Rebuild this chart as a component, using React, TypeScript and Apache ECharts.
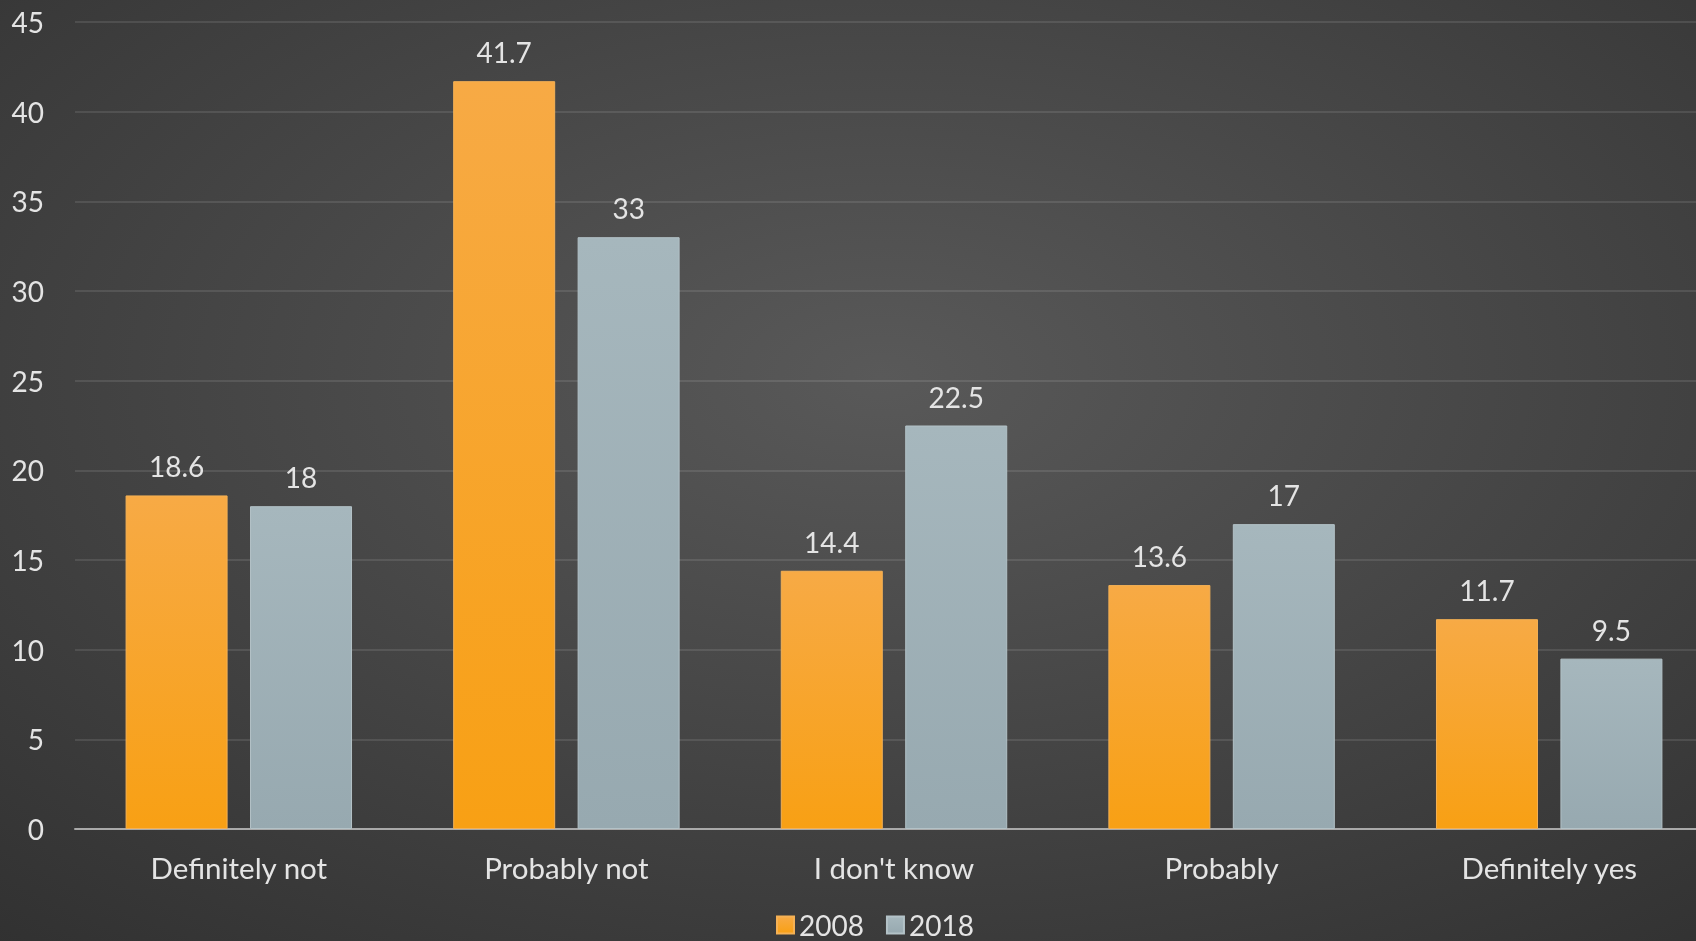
import React, { useEffect, useRef } from "react";
import * as echarts from "echarts";

const categories = ["Definitely not", "Probably not", "I don't know", "Probably", "Definitely yes"];
const values2008 = [18.6, 41.7, 14.4, 13.6, 11.7];
const values2018 = [18, 33, 22.5, 17, 9.5];
const seriesNames = ["2008", "2018"];

export default function App() {
  const ref = useRef<HTMLDivElement>(null);
  useEffect(() => {
    document.body.style.margin = "0";
    const chart = echarts.init(ref.current!, null, { renderer: "svg" });
    const font = "Lato, 'Open Sans', sans-serif";
    const textColor = "#e4e4e4";
    chart.setOption({
      animation: false,
      backgroundColor: {
        type: "radial",
        x: 0.52,
        y: 0.4,
        r: 1.0,
        colorStops: [
          { offset: 0, color: "#595959" },
          { offset: 1, color: "#272727" },
        ],
      },
      grid: { left: 75, width: 1638, top: 22, height: 807, containLabel: false, outerBoundsMode: "none" },
      legend: {
        data: seriesNames,
        left: 771,
        top: 906,
        itemWidth: 17,
        itemHeight: 17,
        itemGap: 22,
        icon: "rect",
        textStyle: { color: textColor, fontSize: 28, lineHeight: 26, fontFamily: font, padding: [0, 0, 0, 0] },
      },
      xAxis: {
        type: "category",
        data: categories,
        axisLine: { show: true, lineStyle: { color: "#a9a9a9", width: 2 } },
        axisTick: { show: false },
        axisLabel: { color: textColor, fontSize: 29.5, fontFamily: font, margin: 23 },
      },
      yAxis: {
        type: "value",
        min: 0,
        max: 45,
        interval: 5,
        axisLine: { show: false },
        axisTick: { show: false },
        axisLabel: { color: textColor, fontSize: 28, fontFamily: font, margin: 31 },
        splitLine: { lineStyle: { color: "rgba(255,255,255,0.1)", width: 2 } },
      },
      series: [
        {
          name: seriesNames[0],
          type: "bar",
          data: values2008,
          barWidth: 102,
          barGap: "22%",
          itemStyle: {
            color: {
              type: "linear", x: 0, y: 0, x2: 0, y2: 1,
              colorStops: [
                { offset: 0, color: "#f7aa45" },
                { offset: 1, color: "#f8a014" },
              ],
            },
            borderColor: "#f5b155",
            borderWidth: 1,
          },
          label: { show: true, position: "top", distance: 15, color: textColor, fontSize: 28, fontFamily: font },
        },
        {
          name: seriesNames[1],
          type: "bar",
          data: values2018,
          barWidth: 102,
          barGap: "22%",
          itemStyle: {
            color: {
              type: "linear", x: 0, y: 0, x2: 0, y2: 1,
              colorStops: [
                { offset: 0, color: "#a6b7bd" },
                { offset: 1, color: "#97a9b0" },
              ],
            },
            borderColor: "#b3c2c7",
            borderWidth: 1,
          },
          label: { show: true, position: "top", distance: 15, color: textColor, fontSize: 28, fontFamily: font },
        },
      ],
    });
    return () => chart.dispose();
  }, []);
  return <div ref={ref} style={{ position: "fixed", left: 0, top: 0, width: 1696, height: 941 }} />;
}
